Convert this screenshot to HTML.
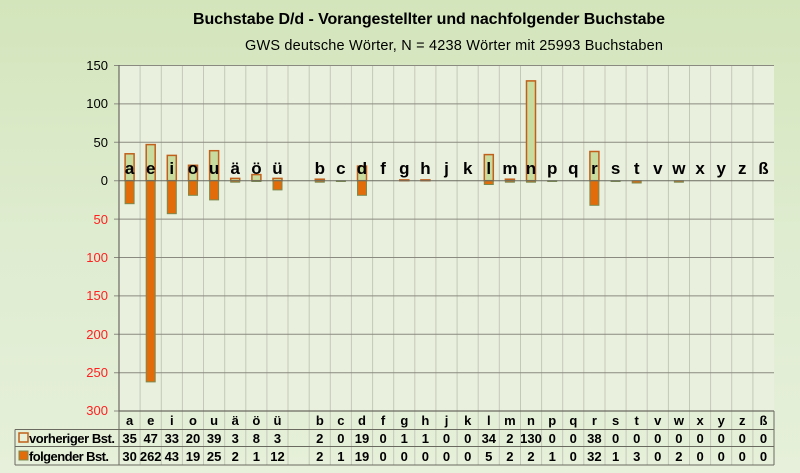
<!DOCTYPE html>
<html><head><meta charset="utf-8"><style>
body{margin:0;width:800px;height:473px;overflow:hidden;background:linear-gradient(#d3e5bb,#dfecd0 50%,#e6f0da);}
svg{display:block;font-family:"Liberation Sans",sans-serif;}
</style></head><body>
<svg width="800" height="473" viewBox="0 0 800 473">
<text x="429" y="24" text-anchor="middle" font-size="16" font-weight="bold" textLength="472">Buchstabe D/d - Vorangestellter und nachfolgender Buchstabe</text>
<text x="454" y="50" text-anchor="middle" font-size="14.5" textLength="418">GWS deutsche Wörter, N = 4238 Wörter mit 25993 Buchstaben</text>
<rect x="119" y="65" width="655" height="346" fill="#eaf0de"/>
<g stroke="#c4c8b8" stroke-width="1">
<path d="M140.1 65V465M161.3 65V465M182.4 65V465M203.5 65V465M224.7 65V465M245.8 65V465M266.9 65V465M288 65V465M309.2 65V465M330.3 65V465M351.4 65V465M372.6 65V465M393.7 65V465M414.8 65V465M435.9 65V465M457.1 65V465M478.2 65V465M499.3 65V465M520.5 65V465M541.6 65V465M562.7 65V465M583.8 65V465M605 65V465M626.1 65V465M647.2 65V465M668.4 65V465M689.5 65V465M710.6 65V465M731.7 65V465M752.9 65V465"/>
</g>
<g stroke="#8a8a80" stroke-width="1">
<path d="M119 65.5H774M119 103.9H774M119 142.3H774M119 219.1H774M119 257.5H774M119 295.9H774M119 334.3H774M119 372.7H774"/>
<path d="M114 65.5H119M114 103.9H119M114 142.3H119M114 180.7H119M114 219.1H119M114 257.5H119M114 295.9H119M114 334.3H119M114 372.7H119M114 411H119"/>
</g>
<g font-size="13" text-anchor="end">
<text x="108" y="70">150</text><text x="108" y="108">100</text><text x="108" y="147">50</text><text x="108" y="185">0</text>
<g fill="#ff2020"><text x="108" y="224">50</text><text x="108" y="262">100</text><text x="108" y="300">150</text><text x="108" y="339">200</text><text x="108" y="377">250</text><text x="108" y="415">300</text></g>
</g>
<g fill="#c8dca0" stroke="#c0601a" stroke-width="1.5">
<rect x="125.1" y="153.8" width="9" height="26.9"/><rect x="146.2" y="144.6" width="9" height="36.1"/><rect x="167.3" y="155.4" width="9" height="25.3"/><rect x="188.5" y="165.3" width="9" height="15.4"/><rect x="209.6" y="150.7" width="9" height="30"/><rect x="230.7" y="178.4" width="9" height="2.3"/><rect x="251.9" y="174.6" width="9" height="6.1"/><rect x="273" y="178.4" width="9" height="2.3"/><rect x="315.3" y="179.2" width="9" height="1.5"/><rect x="357.5" y="166.1" width="9" height="14.6"/><rect x="399.8" y="179.9" width="9" height="0.8"/><rect x="420.9" y="179.9" width="9" height="0.8"/><rect x="484.3" y="154.6" width="9" height="26.1"/><rect x="505.4" y="179.2" width="9" height="1.5"/><rect x="526.5" y="80.9" width="9" height="99.8"/><rect x="589.9" y="151.5" width="9" height="29.2"/>
</g>
<g fill="#e36c0a" stroke="#7a8a50" stroke-width="1">
<rect x="125.1" y="180.7" width="9" height="23"/><rect x="146.2" y="180.7" width="9" height="201.2"/><rect x="167.3" y="180.7" width="9" height="33"/><rect x="188.5" y="180.7" width="9" height="14.6"/><rect x="209.6" y="180.7" width="9" height="19.2"/><rect x="230.7" y="180.7" width="9" height="1.5"/><rect x="251.9" y="180.7" width="9" height="0.8"/><rect x="273" y="180.7" width="9" height="9.2"/><rect x="315.3" y="180.7" width="9" height="1.5"/><rect x="336.4" y="180.7" width="9" height="0.8"/><rect x="357.5" y="180.7" width="9" height="14.6"/><rect x="484.3" y="180.7" width="9" height="3.8"/><rect x="505.4" y="180.7" width="9" height="1.5"/><rect x="526.5" y="180.7" width="9" height="1.5"/><rect x="547.7" y="180.7" width="9" height="0.8"/><rect x="589.9" y="180.7" width="9" height="24.6"/><rect x="611.1" y="180.7" width="9" height="0.8"/><rect x="632.2" y="180.7" width="9" height="2.3"/><rect x="674.4" y="180.7" width="9" height="1.5"/>
</g>
<path d="M119 180.7H774" stroke="#6a6a60" stroke-width="1"/>
<path d="M119 65V411H774" stroke="#6a6a60" stroke-width="1.2" fill="none"/>
<g font-size="17" font-weight="bold" text-anchor="middle">
<text x="129.6" y="174">a</text><text x="150.7" y="174">e</text><text x="171.8" y="174">i</text><text x="193" y="174">o</text><text x="214.1" y="174">u</text><text x="235.2" y="174">ä</text><text x="256.4" y="174">ö</text><text x="277.5" y="174">ü</text><text x="319.8" y="174">b</text><text x="340.9" y="174">c</text><text x="362" y="174">d</text><text x="383.1" y="174">f</text><text x="404.3" y="174">g</text><text x="425.4" y="174">h</text><text x="446.5" y="174">j</text><text x="467.7" y="174">k</text><text x="488.8" y="174">l</text><text x="509.9" y="174">m</text><text x="531" y="174">n</text><text x="552.2" y="174">p</text><text x="573.3" y="174">q</text><text x="594.4" y="174">r</text><text x="615.6" y="174">s</text><text x="636.7" y="174">t</text><text x="657.8" y="174">v</text><text x="678.9" y="174">w</text><text x="700.1" y="174">x</text><text x="721.2" y="174">y</text><text x="742.3" y="174">z</text><text x="763.5" y="174">ß</text>
</g>
<g stroke="#6a6a60" stroke-width="1" fill="none">
<path d="M15 429.5H774M15 446.5H774M15 465H774M15 429.5V465M119 411V465M774 411V465"/>
</g>
<rect x="19" y="433" width="9" height="9" fill="#e8f0d8" stroke="#c0601a" stroke-width="1.5"/>
<rect x="19" y="451" width="9" height="9" fill="#e36c0a" stroke="#7a8a50"/>
<g font-size="13" font-weight="bold">
<text x="29" y="443" textLength="86">vorheriger Bst.</text><text x="29" y="461" textLength="80">folgender Bst.</text>
</g>
<g font-size="13" font-weight="bold" text-anchor="middle">
<text x="129.6" y="425">a</text><text x="150.7" y="425">e</text><text x="171.8" y="425">i</text><text x="193" y="425">o</text><text x="214.1" y="425">u</text><text x="235.2" y="425">ä</text><text x="256.4" y="425">ö</text><text x="277.5" y="425">ü</text><text x="319.8" y="425">b</text><text x="340.9" y="425">c</text><text x="362" y="425">d</text><text x="383.1" y="425">f</text><text x="404.3" y="425">g</text><text x="425.4" y="425">h</text><text x="446.5" y="425">j</text><text x="467.7" y="425">k</text><text x="488.8" y="425">l</text><text x="509.9" y="425">m</text><text x="531" y="425">n</text><text x="552.2" y="425">p</text><text x="573.3" y="425">q</text><text x="594.4" y="425">r</text><text x="615.6" y="425">s</text><text x="636.7" y="425">t</text><text x="657.8" y="425">v</text><text x="678.9" y="425">w</text><text x="700.1" y="425">x</text><text x="721.2" y="425">y</text><text x="742.3" y="425">z</text><text x="763.5" y="425">ß</text>
<text x="129.6" y="443">35</text><text x="150.7" y="443">47</text><text x="171.8" y="443">33</text><text x="193" y="443">20</text><text x="214.1" y="443">39</text><text x="235.2" y="443">3</text><text x="256.4" y="443">8</text><text x="277.5" y="443">3</text><text x="319.8" y="443">2</text><text x="340.9" y="443">0</text><text x="362" y="443">19</text><text x="383.1" y="443">0</text><text x="404.3" y="443">1</text><text x="425.4" y="443">1</text><text x="446.5" y="443">0</text><text x="467.7" y="443">0</text><text x="488.8" y="443">34</text><text x="509.9" y="443">2</text><text x="531" y="443">130</text><text x="552.2" y="443">0</text><text x="573.3" y="443">0</text><text x="594.4" y="443">38</text><text x="615.6" y="443">0</text><text x="636.7" y="443">0</text><text x="657.8" y="443">0</text><text x="678.9" y="443">0</text><text x="700.1" y="443">0</text><text x="721.2" y="443">0</text><text x="742.3" y="443">0</text><text x="763.5" y="443">0</text>
<text x="129.6" y="461">30</text><text x="150.7" y="461">262</text><text x="171.8" y="461">43</text><text x="193" y="461">19</text><text x="214.1" y="461">25</text><text x="235.2" y="461">2</text><text x="256.4" y="461">1</text><text x="277.5" y="461">12</text><text x="319.8" y="461">2</text><text x="340.9" y="461">1</text><text x="362" y="461">19</text><text x="383.1" y="461">0</text><text x="404.3" y="461">0</text><text x="425.4" y="461">0</text><text x="446.5" y="461">0</text><text x="467.7" y="461">0</text><text x="488.8" y="461">5</text><text x="509.9" y="461">2</text><text x="531" y="461">2</text><text x="552.2" y="461">1</text><text x="573.3" y="461">0</text><text x="594.4" y="461">32</text><text x="615.6" y="461">1</text><text x="636.7" y="461">3</text><text x="657.8" y="461">0</text><text x="678.9" y="461">2</text><text x="700.1" y="461">0</text><text x="721.2" y="461">0</text><text x="742.3" y="461">0</text><text x="763.5" y="461">0</text>
</g>
</svg>
</body></html>
